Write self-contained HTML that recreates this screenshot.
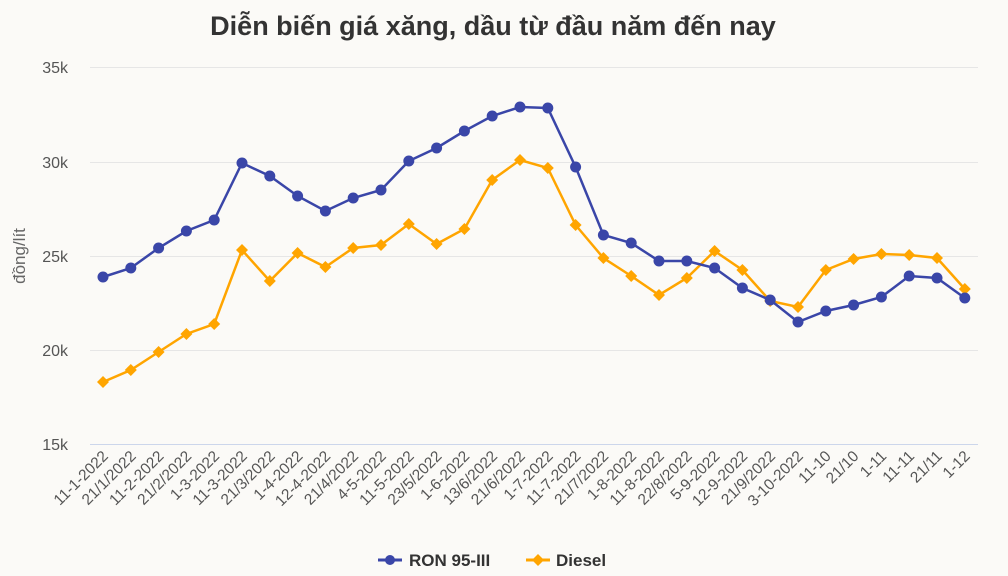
<!DOCTYPE html><html><head><meta charset="utf-8"><style>body{margin:0;background:#fbfaf7;}svg{display:block;font-family:"Liberation Sans",sans-serif;}</style></head><body>
<svg id="s" width="1008" height="576" xmlns="http://www.w3.org/2000/svg">
<rect width="1008" height="576" fill="#fbfaf7"/>
<text x="493" y="35" text-anchor="middle" font-size="27" font-weight="bold" fill="#333">Diễn biến giá xăng, dầu từ đầu năm đến nay</text>
<g stroke="#e6e6e6" stroke-width="1">
<line x1="90" x2="978" y1="67.5" y2="67.5"/><line x1="90" x2="978" y1="162.5" y2="162.5"/><line x1="90" x2="978" y1="256.5" y2="256.5"/><line x1="90" x2="978" y1="350.5" y2="350.5"/></g>
<line x1="90" x2="978" y1="444.5" y2="444.5" stroke="#ccd6eb"/>
<g font-size="16" fill="#555" text-anchor="end">
<text x="68" y="73">35k</text><text x="68" y="168">30k</text><text x="68" y="262">25k</text><text x="68" y="356">20k</text><text x="68" y="450">15k</text></g>
<text transform="translate(25,256) rotate(-90)" text-anchor="middle" font-size="17" fill="#666">đồng/lít</text>
<g id="g"></g>
<g font-size="17" font-weight="bold" fill="#333">
<line x1="378" x2="402" y1="560" y2="560" stroke="#3a46a8" stroke-width="3"/><circle cx="390" cy="560" r="5" fill="#3a46a8"/>
<text x="409" y="566">RON 95-III</text>
<line x1="526" x2="550" y1="560" y2="560" stroke="#ffa500" stroke-width="3"/><path d="M538 554l6 6-6 6-6-6z" fill="#ffa500"/>
<text x="556" y="566">Diesel</text></g>
</svg>
<script>
var L=["11-1-2022","21/1/2022","11-2-2022","21/2/2022","1-3-2022","11-3-2022","21/3/2022","1-4-2022","12-4-2022","21/4/2022","4-5-2022","11-5-2022","23/5/2022","1-6-2022","13/6/2022","21/6/2022","1-7-2022","11-7-2022","21/7/2022","1-8-2022","11-8-2022","22/8/2022","5-9-2022","12-9-2022","21/9/2022","3-10-2022","11-10","21/10","1-11","11-11","21/11","1-12"];
var R=[277,268,248,231,220,163,176,196,211,198,190,161,148,131,116,107,108,167,235,243,261,261,268,288,300,322,311,305,297,276,278,298];
var D=[382,370,352,334,324,250,281,253,267,248,245,224,244,229,180,160,168,225,258,276,295,278,251,270,301,307,270,259,254,255,258,289];
var h='';function X(i){return 103+27.8*i;}
var pd='',pr='';
for(var i=0;i<32;i++){pd+=(i?'L':'M')+X(i)+' '+D[i];pr+=(i?'L':'M')+X(i)+' '+R[i];
h+='<text transform="translate('+(X(i)+6)+',457) rotate(-45)" text-anchor="end" font-size="15.5" fill="#555">'+L[i]+'</text>';}
h+='<path d="'+pd+'" fill="none" stroke="#ffa500" stroke-width="2.5"/>';
h+='<path d="'+pr+'" fill="none" stroke="#3a46a8" stroke-width="2.5"/>';
for(i=0;i<32;i++){var x=X(i);h+='<path d="M'+x+' '+(D[i]-6)+'l6 6-6 6-6-6z" fill="#ffa500"/>';}
for(i=0;i<32;i++){h+='<circle cx="'+X(i)+'" cy="'+R[i]+'" r="5.5" fill="#3a46a8"/>';}
document.getElementById('g').innerHTML=h;
</script>
</body></html>
